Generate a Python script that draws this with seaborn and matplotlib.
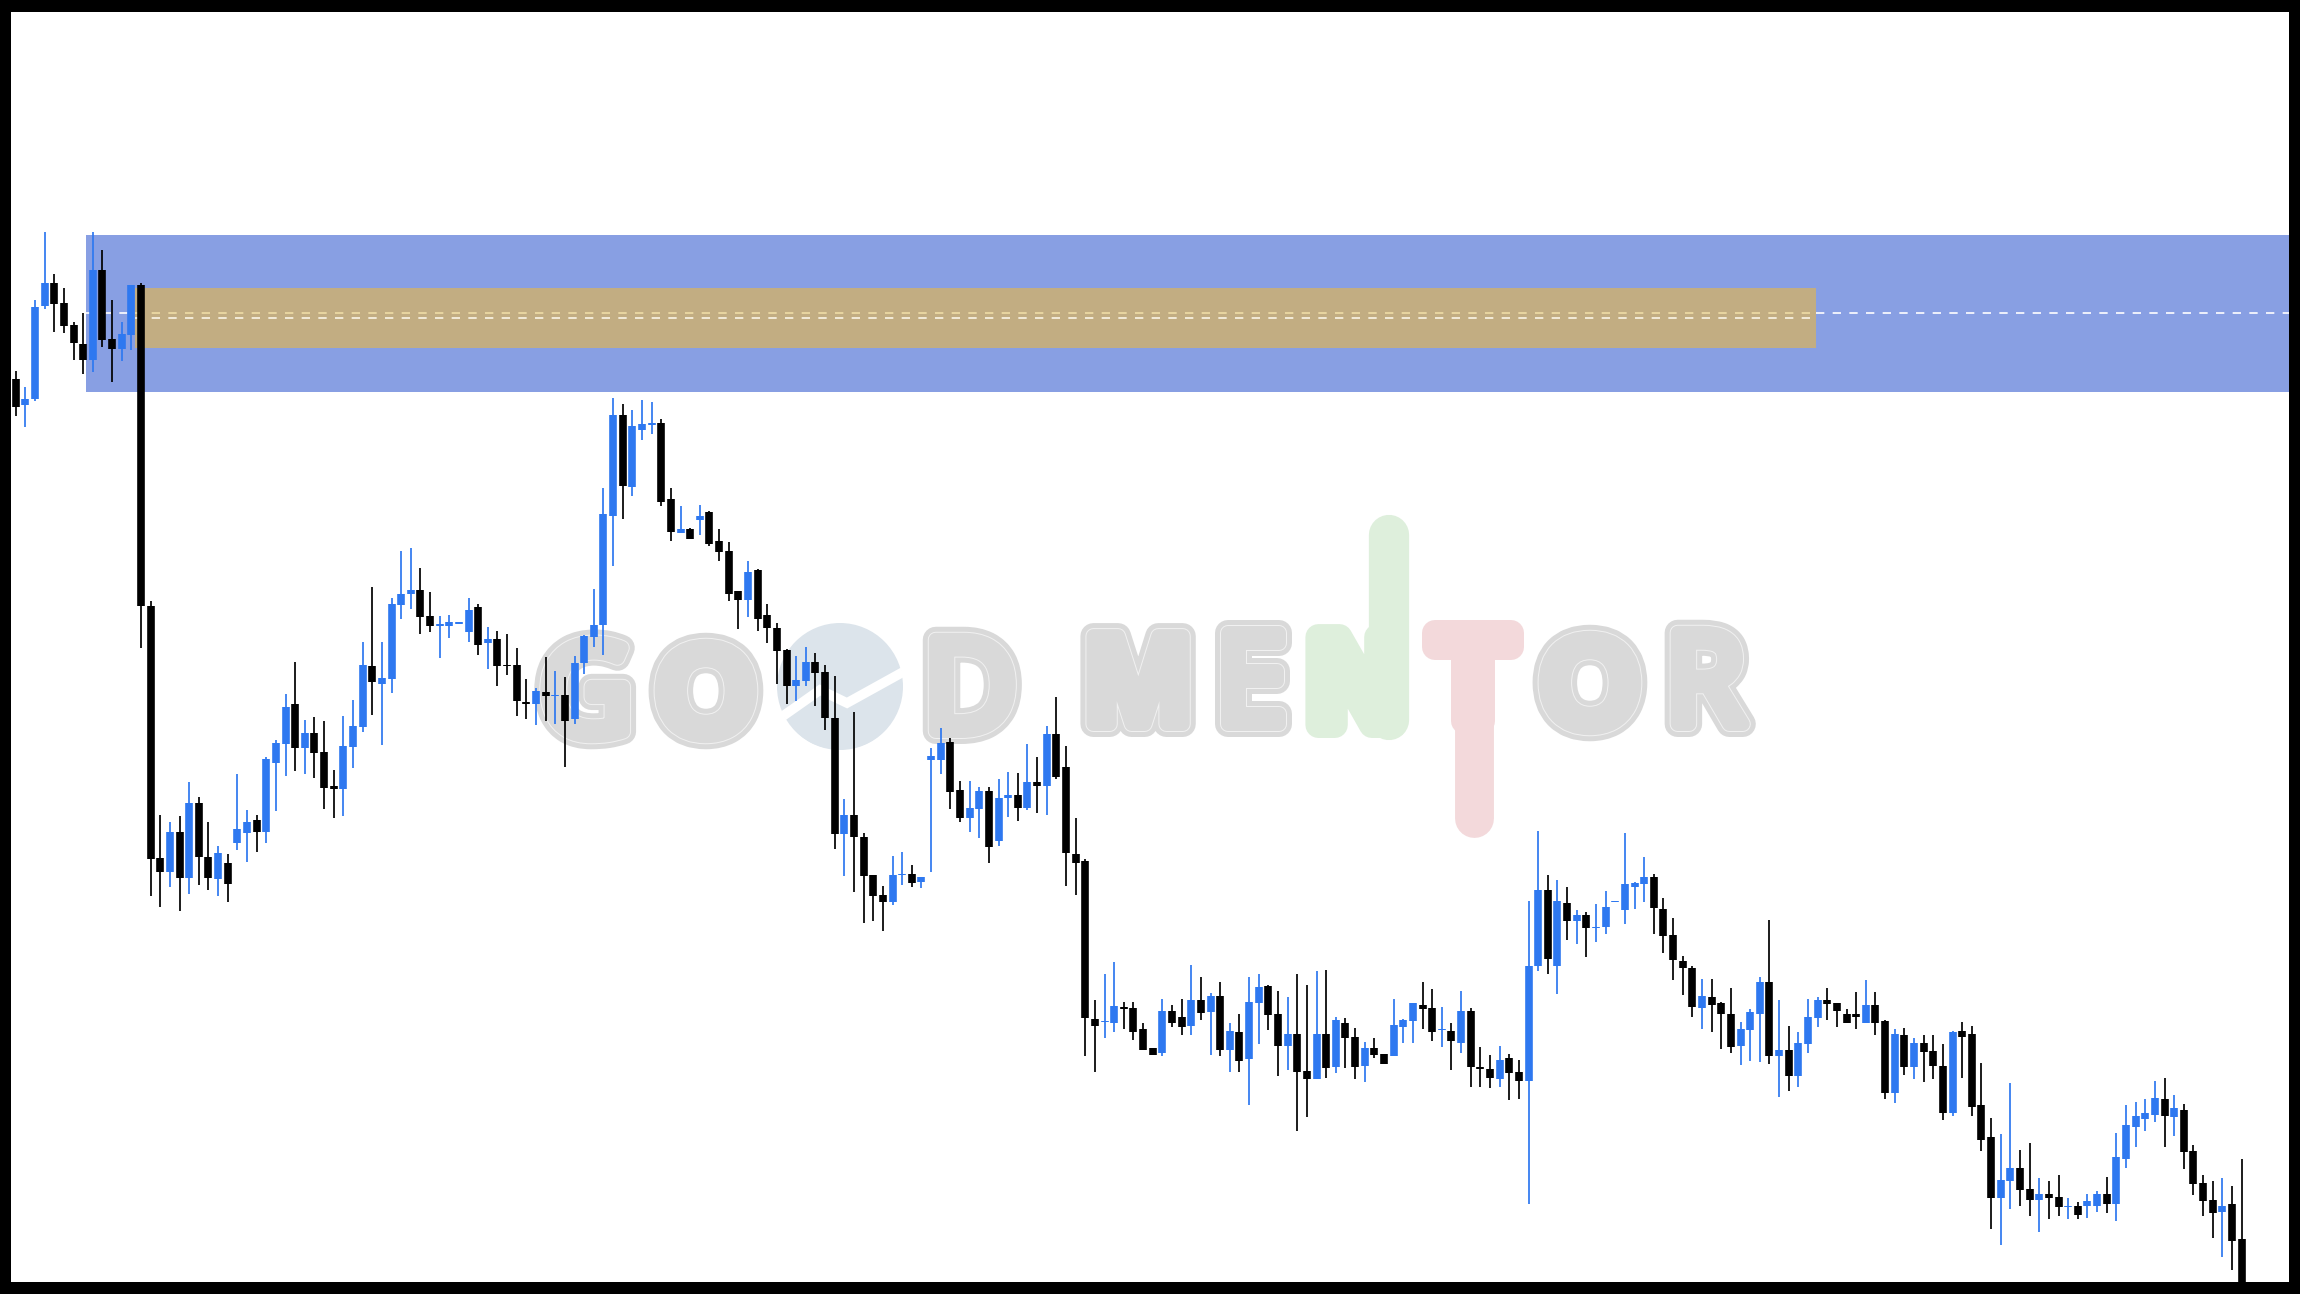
import numpy as np
import pandas as pd
import matplotlib
matplotlib.use("Agg")
import matplotlib.pyplot as plt
import matplotlib.patheffects as pe
from matplotlib.patches import Rectangle, Ellipse
import seaborn as sns
import seaborn.objects as so

# ---------------- candle values (level = screen height scale) ----------------
HIGH = [
 371,387,300,232,274,288,322,313,232,250, 300,322,285,283,601,815,822,816,782,797,
 822,846,854,774,810,815,757,740,694,662, 720,717,721,770,716,700,642,587,642,598,
 551,548,568,592,616,615,622,598,604,627, 631,634,648,679,688,657,671,677,656,635,
 589,488,398,404,410,400,402,419,488,506, 528,505,511,529,542,591,561,569,604,623,
 649,656,647,653,665,676,799,712,833,875, 886,856,852,865,877,748,728,738,781,781,
 787,787,779,772,773,744,757,726,697,746, 818,859,1000,974,962,1002,1002,1023,1048,999,
 1005,999,965,977,993,982,1023,1014,977,974, 985,991,997,974,985,971,970,1017,1018,1028,
 1042,1038,1054,999,1019,1003,982,989,1007,1023, 991,1008,1047,1055,1046,1054,1060,901,831,875,
 880,887,910,912,904,891,901,833,882,857, 874,898,918,956,966,979,979,1002,988,1022,
 1009,977,920,1000,1026,1032,999,997,988,1003, 1009,992,980,992,1020,1029,1028,1038,1035,1035,
 1044,1031,1022,1026,1063,1118,1134,1083,1150,1143, 1178,1181,1175,1198,1202,1194,1191,1177,1133,1105,
 1102,1099,1081,1078,1095,1104,1145,1175,1181,1178, 1186,1159]
BODY_TOP = [
 379,399,307,283,283,303,325,344,270,270, 339,334,285,285,606,858,832,832,803,803,
 857,853,863,829,822,820,759,743,707,704, 733,733,752,786,746,726,665,666,678,604,
 594,590,590,616,624,622,622,610,607,639, 639,665,665,702,691,692,695,695,663,636,
 625,514,415,415,426,424,423,423,499,529, 529,516,512,541,551,591,572,570,615,628,
 650,680,662,662,672,718,815,815,837,875, 895,875,874,874,877,756,743,742,790,808,
 791,791,798,795,795,782,782,734,734,767, 854,861,1019,1021,1006,1007,1008,1029,1048,1011,
 1011,1017,1000,1000,996,996,1031,1032,1002,987, 986,1014,1034,1034,1071,1034,1034,1020,1023,1037,
 1048,1048,1054,1025,1020,1003,1005,1008,1029,1031, 1011,1011,1067,1069,1060,1058,1072,966,890,890,
 901,903,915,915,927,907,901,884,883,877, 877,909,935,961,968,996,997,1003,1014,1029,
 1012,982,982,1050,1050,1043,1017,1000,1000,1003, 1014,1014,1005,1005,1021,1034,1035,1043,1043,1051,
 1066,1032,1031,1034,1105,1137,1180,1168,1168,1189, 1194,1194,1197,1206,1206,1201,1194,1194,1157,1125,
 1116,1113,1098,1099,1108,1110,1151,1183,1200,1206, 1204,1239]
BODY_BOTTOM = [
 407,405,399,306,304,326,343,360,360,340, 349,349,335,606,859,872,872,878,878,857,
 878,879,884,843,833,832,832,763,744,748, 748,753,788,789,789,747,727,682,684,679,
 605,594,617,626,626,626,624,632,645,643, 666,666,701,704,704,696,696,721,719,663,
 637,625,516,486,487,430,425,502,532,533, 539,520,544,552,594,600,600,619,628,651,
 686,686,681,673,718,834,834,837,876,896, 902,902,875,883,882,760,760,792,818,818,
 809,847,841,798,808,808,786,786,777,853, 863,1018,1026,1022,1023,1009,1032,1050,1055,1053,
 1023,1027,1026,1013,1012,1050,1050,1061,1059,1003, 1015,1046,1046,1072,1079,1079,1068,1067,1038,1067,
 1066,1055,1064,1056,1027,1021,1009,1032,1030,1041, 1043,1067,1069,1078,1079,1073,1081,1081,966,959,
 966,921,921,928,928,927,902,910,887,884, 908,936,960,968,1007,1008,1005,1014,1047,1046,
 1030,1014,1056,1056,1076,1076,1044,1018,1004,1011, 1023,1017,1023,1023,1093,1093,1067,1067,1052,1066,
 1113,1113,1037,1107,1140,1198,1198,1181,1190,1200, 1200,1198,1207,1207,1215,1206,1206,1204,1204,1159,
 1127,1119,1115,1116,1117,1152,1184,1201,1213,1212, 1241,1282]
LOW = [
 416,427,401,309,332,333,360,374,372,347, 382,361,350,648,896,907,887,911,894,885,
 890,896,902,850,862,852,843,811,776,771, 774,778,809,818,816,768,732,715,745,693,
 619,609,634,632,658,638,624,642,655,669, 686,675,716,719,725,721,724,767,724,674,
 647,655,566,519,496,440,434,506,541,533, 539,535,546,561,601,629,617,631,643,684,
 704,701,686,706,730,849,876,892,923,921, 931,905,885,887,888,872,774,809,822,832,
 838,863,846,817,821,810,813,815,779,886, 895,1056,1072,1038,1032,1029,1040,1050,1055,1056,
 1027,1035,1035,1020,1055,1056,1072,1072,1105,1044, 1030,1076,1070,1131,1117,1079,1078,1073,1068,1079,
 1082,1058,1064,1056,1043,1043,1029,1041,1047,1070, 1053,1087,1087,1088,1087,1100,1099,1204,971,974,
 994,940,944,957,942,934,902,924,909,902, 934,953,980,995,1017,1029,1032,1049,1053,1065,
 1061,1062,1064,1097,1091,1087,1053,1027,1020,1027, 1023,1029,1023,1035,1099,1103,1075,1079,1082,1079,
 1120,1116,1078,1116,1151,1229,1245,1209,1206,1216, 1232,1219,1216,1219,1219,1218,1212,1213,1221,1168,
 1147,1131,1122,1147,1136,1169,1195,1216,1238,1257, 1270,1282]
DIRECTION = list(
 "dbbbddddbd" "dbbddd" "bdbd"
 "dbdbbdbbbd" "bdddbbbdbb"
 "bbddbbbbdb" "ddddbdbdbb"
 "bbbdbbbddb" "dbdddd" "bddd"
 "dbbdddbddd" "dbbdbbbddb"
 "bdbbdbdbdd" "dddbbddddb"
 "ddbdbdbdbb" "ddbddbdbdd"
 "bddbbbddbd" "bdddbddbbd"
 "bdbdbbbbbb" "dddddbdddb"
 "bbdbdbbbdd" "ddbddbdbdd"
 "dbddddbbdd" "bddbdbbdbb"
 "bbbdbddddb" "dd")

# ---------------- zone levels and scale ----------------
ZONE_TOP, ZONE_BOTTOM = 234.7, 391.7
CORE_TOP, CORE_BOTTOM = 288.3, 347.7
LEVEL_A, LEVEL_B = 313.0, 317.7
PX_X0, PX_STEP = 15.7, 9.636
LEFT, RIGHT, TOP, BOTTOM = 11, 2289, 12, 1282
W, H = 2300, 1294

BLUE, BLACK = "#2E78F0", "#000000"
BAND, CORE = "#889FE3", "#C2AD82"
GREY, SLATE, GREEN, PINK = "#D9D9D9", "#DCE4EB", "#DEEFDC", "#F3D9DB"


def px(x):
    """Screen x to candle index."""
    return (x - PX_X0) / PX_STEP


sns.set_theme(style="white")
plt.rcParams["lines.solid_capstyle"] = "butt"
plt.rcParams["lines.scale_dashes"] = False
plt.rcParams["font.family"] = ["Liberation Sans", "DejaVu Sans"]

fig = plt.figure(figsize=(W / 100, H / 100), dpi=100, facecolor="black")
ax = fig.add_axes([LEFT / W, 1 - BOTTOM / H, (RIGHT - LEFT) / W, (BOTTOM - TOP) / H])
ax.set_facecolor("white")

# ---------------- watermark ----------------
def letter(ch, cx, base, color, family="Liberation Sans", inline=True, size=92, stroke=26):
    k = 0.72
    effects = [pe.Stroke(linewidth=stroke * k, foreground=color, joinstyle="round", capstyle="round")]
    if inline:
        effects += [pe.Stroke(linewidth=(stroke - 10) * k, foreground="#F1F1F1", joinstyle="round"),
                    pe.Stroke(linewidth=(stroke - 12) * k, foreground=color, joinstyle="round")]
    effects.append(pe.Normal())
    ax.text(px(cx), base, ch, ha="center", va="baseline", fontsize=size, fontweight="bold",
            family=family, color=color, zorder=1, path_effects=effects)


letter("G", 586, 735, GREY, family="Noto Sans")
letter("O", 706, 735, GREY)
ax.add_patch(Ellipse((px(840), 686.5), 126 / PX_STEP, 127, color=SLATE, zorder=1, lw=0))
letter("O", 840, 735, SLATE, inline=False)
ax.plot(px(np.array([783, 820, 847, 903])), [716, 690, 703, 672], color="white", lw=7,
        solid_joinstyle="miter", zorder=1.1)
letter("D", 970, 731, GREY, family="Noto Sans")
letter("M", 1138, 724, GREY)
letter("E", 1251, 724, GREY, family="Noto Sans")
letter("N", 1356, 725, GREEN, inline=False)
ax.plot([px(1388.5)] * 2, [535, 720], color=GREEN, lw=29, solid_capstyle="round", zorder=1)
letter("T", 1473, 721, PINK, inline=False)
ax.plot([px(1473.5)] * 2, [650, 818], color=PINK, lw=28, solid_capstyle="round", zorder=1)
letter("O", 1590, 727, GREY)
letter("R", 1705, 724, GREY, family="Noto Sans")

# ---------------- zones ----------------
ax.add_patch(Rectangle((px(85.7), ZONE_TOP), px(RIGHT + 5) - px(85.7), ZONE_BOTTOM - ZONE_TOP,
                       color=BAND, lw=0, zorder=1.2))
ax.add_patch(Rectangle((px(135), CORE_TOP), px(1815.7) - px(135), CORE_BOTTOM - CORE_TOP,
                       color=CORE, lw=0, zorder=1.3))
dash = (0, (6.0, 6.0))
ax.plot([px(85.7), px(135)], [LEVEL_A, LEVEL_A], color="white", lw=1.2, ls=dash, zorder=1.4)
ax.plot([px(135), px(1815.7)], [LEVEL_A, LEVEL_A], color="#EFDCA6", lw=1.2, ls=dash, zorder=1.4)
ax.plot([px(1815.7), px(RIGHT)], [LEVEL_A, LEVEL_A], color="white", lw=1.2, ls=dash, zorder=1.4)
ax.plot([px(135), px(1815.7)], [LEVEL_B, LEVEL_B], color="#FBF6E8", lw=1.2, ls=dash, zorder=1.4)

# ---------------- candles ----------------
candles = pd.DataFrame({"bar": np.arange(len(HIGH)), "high": HIGH, "top": BODY_TOP,
                        "bottom": BODY_BOTTOM, "low": LOW, "dir": DIRECTION})
(
    so.Plot(candles, x="bar", color="dir")
    .add(so.Range(linewidth=1.25), ymin="high", ymax="low", legend=False)
    .add(so.Range(linewidth=5.5), ymin="top", ymax="bottom", legend=False)
    .scale(color={"b": BLUE, "d": BLACK})
    .on(ax)
    .plot()
)
ax.set_xlim(px(LEFT), px(RIGHT))
ax.set_ylim(BOTTOM, TOP)
ax.set_axis_off()
ax.add_patch(Rectangle((0, 0), 1, 1, transform=ax.transAxes, color="white", lw=0, zorder=0))
fig.savefig("out.png", dpi=100, facecolor="black")
